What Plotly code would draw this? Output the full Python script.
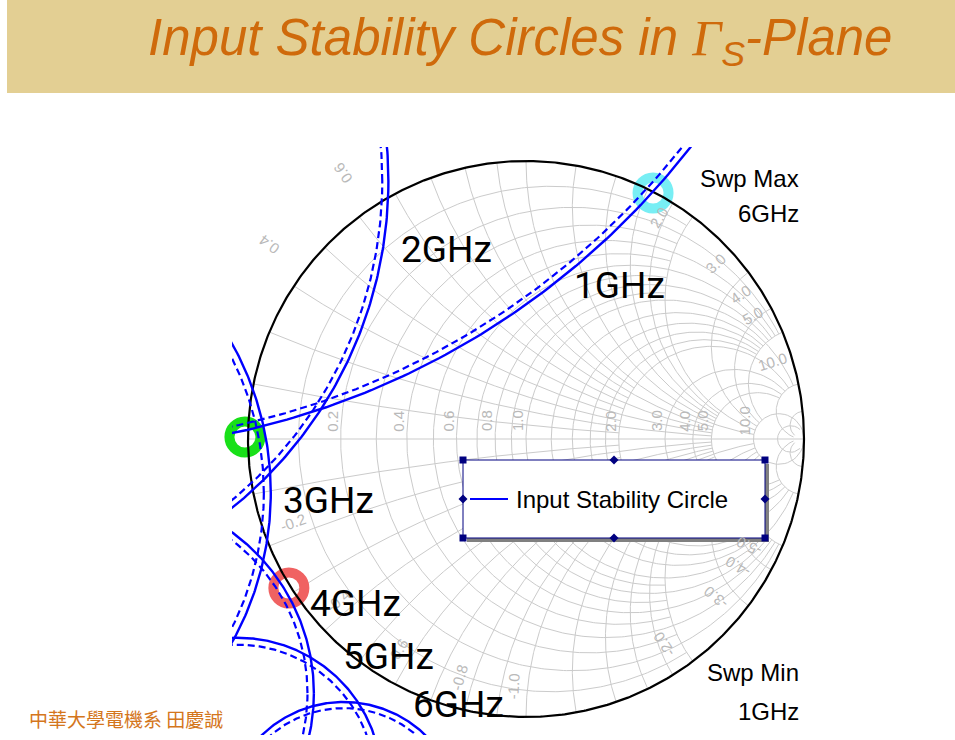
import numpy as np
import plotly.graph_objects as go

# ---------------- data (Gamma-plane units) ----------------
FREQS = ["1GHz", "2GHz", "3GHz", "4GHz", "5GHz", "6GHz"]
CENTER_RE = [-1.640, -2.006, -2.025, -1.478, -1.036, -0.656]
CENTER_IM = [2.790, 0.928, -0.194, -0.914, -1.232, -1.369]
RADIUS_SOLID = [2.830, 1.511, 1.107, 0.715, 0.517, 0.423]
RADIUS_DASHED = [2.806, 1.489, 1.082, 0.692, 0.492, 0.401]

RING_RE = [-1.011, 0.457, -0.853]
RING_IM = [0.007, 0.885, -0.536]
RING_COLORS = ["#19e019", "#78eef4", "#f06262"]

# Smith chart grid values with their extent limits
R_GROUPS = [([0.1, 0.3, 0.5, 0.7, 0.9], 2.0), ([0.2, 0.4, 0.6, 0.8], 5.0), ([1.0], 10.0),
            ([1.2, 1.4, 1.6, 1.8], 5.0), ([2.0, 3.0, 4.0, 5.0], 10.0), ([10.0], np.inf), ([20.0], 50.0)]
X_GROUPS = [([0.1, 0.3, 0.5, 0.7, 0.9], 2.0), ([0.2, 0.4, 0.6, 0.8], 5.0), ([1.0], 10.0),
            ([1.2, 1.4, 1.6, 1.8], 5.0), ([2.0, 3.0, 4.0, 5.0], 10.0), ([10.0], 50.0), ([20.0], 50.0)]
AXIS_LABELS = [0.2, 0.4, 0.6, 0.8, 1.0, 2.0, 3.0, 4.0, 5.0, 10.0]
POS_INNER_LABELS = [2.0, 3.0, 4.0, 5.0, 10.0]
POS_OUTER_LABELS = [0.4, 0.6]
NEG_INNER_LABELS = [0.2, 0.4, 0.6, 0.8, 1.0, 2.0, 3.0, 4.0, 5.0]

LEGEND_TEXT = "Input Stability Circle"

# ---------------- layout geometry (pixels) ----------------
W, H = 955, 740
PL, PT, PW, PH = 232, 147, 588, 588          # plot area
CX, CY, SC = 526, 439, 278                   # unit circle centre / scale in pixels


def gx(px):
    return (px - CX) / SC


def gy(py):
    return (CY - py) / SC


def paper_x(px):
    return (px - PL) / PW


def paper_y(py):
    return (PT + PH - py) / PH


def gamma(z):
    return (z - 1) / (z + 1)


# ---------------- grid ----------------
gxs, gys = [], []


def add(arr):
    gxs.extend(list(arr.real) + [None])
    gys.extend(list(arr.imag) + [None])


for vals, lim in R_GROUPS:
    for r in vals:
        tmax = np.arctan(lim) if np.isfinite(lim) else np.pi / 2 - 1e-4
        t = np.linspace(-tmax, tmax, 400)
        add(gamma(r + 1j * np.tan(t)))
for vals, lim in X_GROUPS:
    for x in vals:
        t = np.linspace(0, np.arctan(lim), 300)
        for s in (1, -1):
            add(gamma(np.tan(t) + 1j * s * x))
add(np.array([-1 + 0j, 1 + 0j]))

fig = go.Figure()
fig.add_trace(go.Scatter(x=gxs, y=gys, mode="lines", line=dict(color="#cbcbcb", width=1),
                         hoverinfo="skip", showlegend=False))

# highlight rings
for re_, im_, col in zip(RING_RE, RING_IM, RING_COLORS):
    fig.add_trace(go.Scatter(x=[re_], y=[im_], mode="markers", showlegend=False, hoverinfo="skip",
                             cliponaxis=False,
                             marker=dict(symbol="circle-open", size=31, color=col,
                                         line=dict(width=10, color=col))))

# outer circle
th = np.linspace(0, 2 * np.pi, 721)
fig.add_trace(go.Scatter(x=np.cos(th), y=np.sin(th), mode="lines", line=dict(color="black", width=2.2),
                         hoverinfo="skip", showlegend=False))

# stability circles
for name, cx, cy, rs, rd in zip(FREQS, CENTER_RE, CENTER_IM, RADIUS_SOLID, RADIUS_DASHED):
    fig.add_trace(go.Scatter(x=cx + rd * np.cos(th), y=cy + rd * np.sin(th), mode="lines",
                             line=dict(color="#0000ff", width=2.2, dash="7px,4px"),
                             name=LEGEND_TEXT, showlegend=False))
    fig.add_trace(go.Scatter(x=cx + rs * np.cos(th), y=cy + rs * np.sin(th), mode="lines",
                             line=dict(color="#0000ff", width=2.4),
                             name=LEGEND_TEXT, showlegend=False))

ann = []
shapes = []
GRAY = "#b9b9b9"
LBL_FONT = dict(family="Liberation Sans", size=15, color=GRAY)

# real axis labels
for r in AXIS_LABELS:
    px = CX + SC * (r - 1) / (r + 1) - 9
    ann.append(dict(x=gx(px), y=gy(421), xref="x", yref="y", text=f"{r:.1f}", showarrow=False,
                    textangle=-90, font=LBL_FONT))


def rim_angle(x):
    return np.degrees(np.arctan2(2 * x / (x * x + 1), (x * x - 1) / (x * x + 1)))


def norm_angle(a):
    a = (a + 180) % 360 - 180
    return a


for v in POS_INNER_LABELS:
    phi = rim_angle(v) + 6
    rho = 0.93
    ann.append(dict(x=rho * np.cos(np.radians(phi)), y=rho * np.sin(np.radians(phi)), xref="x", yref="y",
                    text=f"{v:.1f}", showarrow=False, textangle=norm_angle(-phi), font=LBL_FONT))
for v in POS_OUTER_LABELS:
    phi = rim_angle(v) + 6.5
    rho = 1.16
    ann.append(dict(x=rho * np.cos(np.radians(phi)), y=rho * np.sin(np.radians(phi)), xref="x", yref="y",
                    text=f"{v:.1f}", showarrow=False, textangle=norm_angle(-phi), font=LBL_FONT))
for v in NEG_INNER_LABELS:
    phi = rim_angle(-v) - 3
    rho = 0.89
    ann.append(dict(x=rho * np.cos(np.radians(phi)), y=rho * np.sin(np.radians(phi)), xref="x", yref="y",
                    text=f"-{v:.1f}", showarrow=False, textangle=norm_angle(180 - phi), font=LBL_FONT))

# frequency labels
FREQ_POS = [(619, 285), (446, 249), (328, 500), (355, 603), (388, 656), (458, 704)]
for name, (px, py) in zip(FREQS, FREQ_POS):
    ann.append(dict(x=gx(px), y=gy(py), xref="x", yref="y", text=name, showarrow=False,
                    font=dict(family="Roboto", size=37, color="black")))

# legend box
LX0, LY0, LX1, LY1 = 463, 460, 765, 538
NAVY = "#000080"
shapes.append(dict(type="rect", xref="x", yref="y", x0=gx(LX0 + 4), y0=gy(LY1 + 4), x1=gx(LX1 + 4), y1=gy(LY0 + 4),
                   fillcolor="#808080", line=dict(width=0), layer="above"))
shapes.append(dict(type="rect", xref="x", yref="y", x0=gx(LX0), y0=gy(LY1), x1=gx(LX1), y1=gy(LY0),
                   fillcolor="white", line=dict(color=NAVY, width=1), layer="above"))
shapes.append(dict(type="line", xref="x", yref="y", x0=gx(LX0 + 7), x1=gx(LX0 + 45), y0=gy((LY0 + LY1) / 2),
                   y1=gy((LY0 + LY1) / 2), line=dict(color="#0000ff", width=2), layer="above"))
for hx in (LX0, LX1):
    for hy in (LY0, LY1):
        shapes.append(dict(type="rect", xref="x", yref="y", x0=gx(hx - 3.5), x1=gx(hx + 3.5),
                           y0=gy(hy + 3.5), y1=gy(hy - 3.5), fillcolor=NAVY, line=dict(width=0), layer="above"))
mx, my = (LX0 + LX1) / 2, (LY0 + LY1) / 2
for hx, hy in ((mx, LY0), (mx, LY1), (LX0, my), (LX1, my)):
    d = 4.5
    path = (f"M {gx(hx)} {gy(hy - d)} L {gx(hx + d)} {gy(hy)} L {gx(hx)} {gy(hy + d)} "
            f"L {gx(hx - d)} {gy(hy)} Z")
    shapes.append(dict(type="path", xref="x", yref="y", path=path, fillcolor=NAVY,
                       line=dict(width=0), layer="above"))
ann.append(dict(x=gx(LX0 + 51), y=gy(my), xref="x", yref="y", text=LEGEND_TEXT, showarrow=False,
                xanchor="left", yanchor="middle",
                font=dict(family="Liberation Sans", size=24, color="black")))

# sweep annotations
for txt, py in (("Swp Max", 178), ("6GHz", 213), ("Swp Min", 672), ("1GHz", 711)):
    ann.append(dict(x=paper_x(801), y=paper_y(py), xref="paper", yref="paper", text=txt, showarrow=False,
                    xanchor="right", yanchor="middle",
                    font=dict(family="Liberation Sans", size=24, color="black")))

# title banner
shapes.append(dict(type="rect", xref="paper", yref="paper", x0=paper_x(7), x1=paper_x(955),
                   y0=paper_y(93), y1=paper_y(0), fillcolor="#e3cf93", line=dict(width=0), layer="below"))
ann.append(dict(x=paper_x(520), y=paper_y(42), xref="paper", yref="paper", showarrow=False,
                xanchor="center", yanchor="middle",
                text="<i>Input Stability Circles in <span style=\"font-family:'Liberation Serif'\">Γ</span>"
                     "<sub>S</sub>-Plane</i>",
                font=dict(family="Liberation Sans", size=51, color="#cf6a0b")))

# watermark
ann.append(dict(x=paper_x(27), y=paper_y(718), xref="paper", yref="paper", showarrow=False,
                xanchor="left", yanchor="middle",
                text="中華大學電機系 田慶誠",
                font=dict(family="Noto Sans CJK TC", size=19, color="#d4761c")))

fig.update_layout(
    width=W, height=H, autosize=False,
    margin=dict(l=PL, r=W - PL - PW, t=PT, b=H - PT - PH, pad=0),
    paper_bgcolor="white", plot_bgcolor="rgba(0,0,0,0)",
    xaxis=dict(range=[gx(PL), gx(PL + PW)], visible=False, fixedrange=True),
    yaxis=dict(range=[gy(PT + PH), gy(PT)], visible=False, fixedrange=True),
    showlegend=False, annotations=ann, shapes=shapes,
)

fig.write_html("out.html", config={"displayModeBar": False},
               post_script="document.body.style.margin='0';")
